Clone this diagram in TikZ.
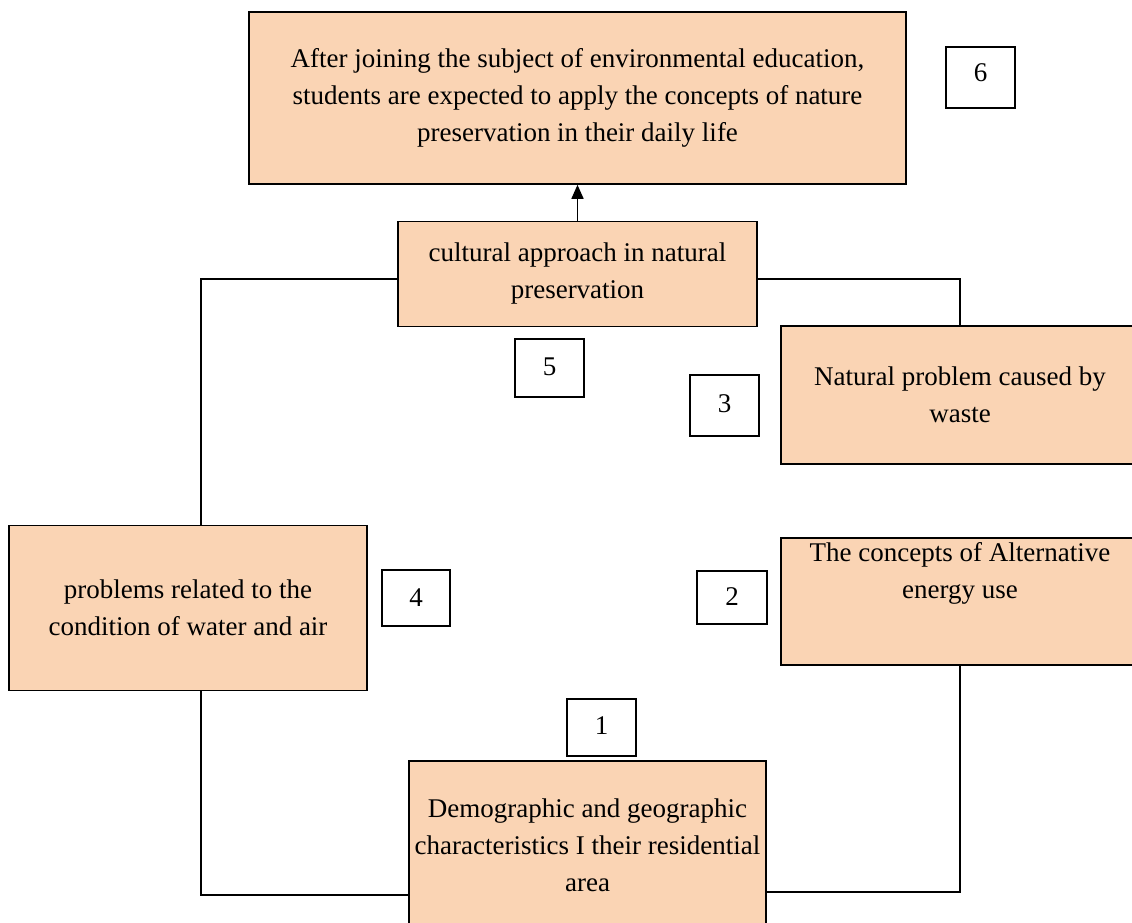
\documentclass[tikz,border=0pt]{standalone}
\usepackage{fontspec}
\setmainfont{Liberation Serif}
\usetikzlibrary{arrows.meta}
\definecolor{peach}{HTML}{FAD4B4}
\tikzset{
  box/.style={draw=black, fill=peach, line width=1.6pt, inner sep=0pt, align=center},
  txt/.style={inner sep=0pt, align=center},
  numbox/.style={draw=black, fill=white, line width=1.3pt, inner sep=0pt},
  conn/.style={draw=black, line width=1.6pt},
}
\begin{document}
\begin{tikzpicture}[x=1pt,y=-1pt,font=\fontsize{27}{37}\selectfont]
\useasboundingbox (0,0) rectangle (1132,923);
\fill[white] (0,0) rectangle (1132,923);
\clip (0,0) rectangle (1132,923);
% main boxes
\node[box, minimum width=657pt, minimum height=172pt] (top) at (577.5,98)
  {After joining the subject of environmental education,\\students are expected to apply the concepts of nature\\preservation in their daily life};
\node[box, minimum width=359pt, minimum height=105pt] (b5) at (577.5,274)
  {cultural approach in natural\\preservation};
\node[box, minimum width=358pt, minimum height=138pt] (b3) at (960,395)
  {Natural problem caused by\\waste};
\node[box, minimum width=358pt, minimum height=165pt] (b4) at (188,608)
  {problems related to the\\condition of water and air};
\node[box, minimum width=358pt, minimum height=127pt] (b2) at (960,601.5) {};
\node[txt] (b2t) at (960,573) {The concepts of Alternative\\energy use};
\node[box, minimum width=357pt, minimum height=168pt] (b1) at (587.5,845)
  {Demographic and geographic\\characteristics I their residential\\area};
% number boxes
\node[numbox, minimum width=69pt, minimum height=61pt] (n6) at (980.5,77.5) {\raisebox{10pt}{6}};
\node[numbox, minimum width=69pt, minimum height=58pt] (n5) at (549.5,368) {\raisebox{3pt}{5}};
\node[numbox, minimum width=69pt, minimum height=61pt] (n3) at (724.5,405.5) {\raisebox{3pt}{3}};
\node[numbox, minimum width=68pt, minimum height=56pt] (n4) at (416,598) {4};
\node[numbox, minimum width=70pt, minimum height=53pt] (n2) at (732,597.5) {\raisebox{2pt}{2}};
\node[numbox, minimum width=69pt, minimum height=57pt] (n1) at (601.5,727.5) {\raisebox{4pt}{1}};
% connectors
\draw[conn, -{Triangle[width=12pt,length=14pt]}] (b5.north) -- (top.south);
\draw[conn] ([yshift=-5pt]b5.west) -| ([xshift=13pt]b4.north);
\draw[conn] ([yshift=-5pt]b5.east) -| (b3.north);
\draw[conn] ([xshift=13pt]b4.south) |- ([yshift=-50pt]b1.west);
\draw[conn] (b2.south) |- ([yshift=-47pt]b1.east);
\end{tikzpicture}
\end{document}
